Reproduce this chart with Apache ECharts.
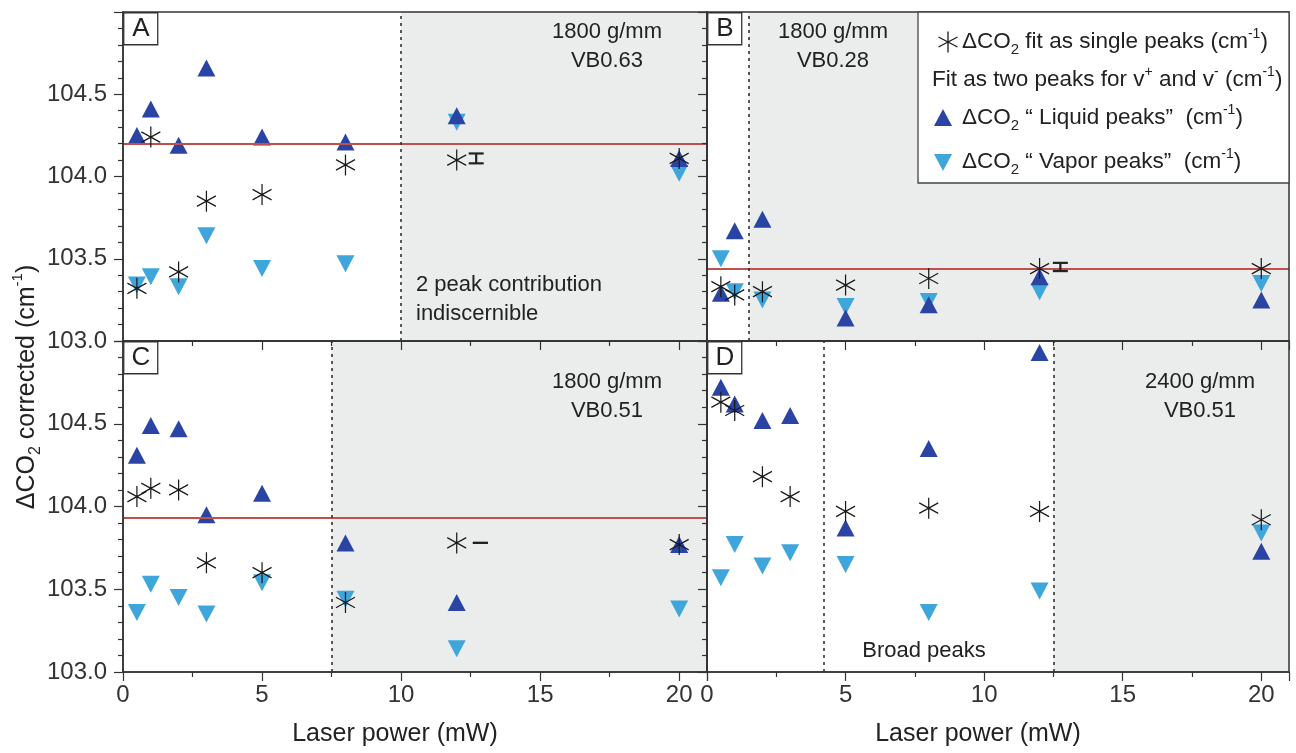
<!DOCTYPE html>
<html><head><meta charset="utf-8">
<script src="https://cdn.jsdelivr.net/npm/echarts@6/dist/echarts.min.js"></script>
<style>html,body{margin:0;padding:0;background:#fff}#c{width:1296px;height:753px}</style>
</head><body><div id="c"></div>
<script>
const FONT = '"Liberation Sans", Arial, sans-serif';
// ---------- data ----------
const powerA = [0.5, 1, 2, 3, 5, 8, 12, 20];
const singleA = [103.32, 104.24, 103.42, 103.85, 103.89, 104.07, 104.10, 104.11];
const liquidA = [104.25, 104.41, 104.19, 104.66, 104.24, 104.21, 104.37, 104.11];
const vaporA  = [103.34, 103.39, 103.33, 103.64, 103.44, 103.47, 104.33, 104.02];

const powerB = [0.5, 1, 2, 5, 8, 12, 20];
const singleB = [103.33, 103.28, 103.30, 103.34, 103.38, 103.44, 103.44];
const liquidB = [103.29, 103.67, 103.74, 103.14, 103.22, 103.39, 103.25];
const vaporB  = [103.50, 103.30, 103.25, 103.21, 103.24, 103.30, 103.35];

const powerC = [0.5, 1, 2, 3, 5, 8, 12, 20];
const singleC = [104.06, 104.11, 104.10, 103.66, 103.60, 103.42, 103.78, 103.77];
const liquidC = [104.31, 104.49, 104.47, 103.95, 104.08, 103.78, 103.42, 103.77];
const vaporC  = [103.36, 103.53, 103.45, 103.35, 103.54, 103.44, 103.14, 103.38];

const powerD = [0.5, 1, 2, 3, 5, 8, 12, 20];
const singleD = [104.63, 104.58, 104.18, 104.06, 103.97, 103.99, 103.97, 103.92];
const liquidD = [104.72, 104.62, 104.52, 104.55, 103.87, 104.35, 104.93, 103.73];
const vaporD  = [103.57, 103.77, 103.64, 103.72, 103.65, 103.36, 103.49, 103.84];

// reference (mean) lines
const refLines = [104.20, 103.44, 103.93, null];
// dotted boundaries and shaded region starts
const dottedX = [[10], [1.5], [7.5], [4.2, 12.5]];
const shadeFrom = [10, 1.5, 7.5, 12.5];
// error bars [x, y, err]
const errBars = [[[12.7, 104.11, 0.03]], [[12.75, 103.45, 0.025]], [[12.85, 103.78, 0.0]], []];

const xTicks = [0, 5, 10, 15, 20];
const yTicks = [103.0, 103.5, 104.0, 104.5];
const panelLabels = ['A', 'B', 'C', 'D'];
const gratings = [['1800 g/mm', 'VB0.63'], ['1800 g/mm', 'VB0.28'], ['1800 g/mm', 'VB0.51'], ['2400 g/mm', 'VB0.51']];

// ---------- styles ----------
const C_LIQ = '#2a44a4', C_VAP = '#3fa6dc', C_RED = '#c0504d', C_SHADE = '#ebecec', C_AX = '#333';
const STAR = 'path://M10,0L10,23M0,5.75L20,17.25M0,17.25L20,5.75';

const gridPos = [
  {left: 123, top: 12, width: 584, height: 329},
  {left: 707, top: 12, width: 582, height: 329},
  {left: 123, top: 341, width: 584, height: 331},
  {left: 707, top: 341, width: 582, height: 331}
];
const panels = [
  [powerA, singleA, liquidA, vaporA],
  [powerB, singleB, liquidB, vaporB],
  [powerC, singleC, liquidC, vaporC],
  [powerD, singleD, liquidD, vaporD]
];

const grid = gridPos.map(g => Object.assign({show: true, z: 10, borderColor: C_AX, borderWidth: 1.5, backgroundColor: 'transparent'}, g));

const xAxis = gridPos.map((g, i) => ({
  type: 'value', gridIndex: i, min: 0, max: 21, interval: 5, z: 10,
  axisLine: {show: true, onZero: false, lineStyle: {color: C_AX, width: 1.5}},
  axisTick: {show: true, length: 9, lineStyle: {color: C_AX, width: 1.2}},
  minorTick: {show: true, splitNumber: 2, length: 5, lineStyle: {color: C_AX, width: 1.2}},
  splitLine: {show: false},
  axisLabel: {show: i >= 2, margin: 11, fontSize: 24, fontFamily: FONT, color: '#333',
    formatter: v => xTicks.includes(v) ? String(v) : ''},
  name: i >= 2 ? 'Laser power (mW)' : '',
  nameLocation: 'middle', nameGap: 50,
  nameTextStyle: {fontSize: 25, fontFamily: FONT, color: '#222', padding: [0, 40, 0, 0]}
}));

const yAxis = gridPos.map((g, i) => ({
  type: 'value', gridIndex: i, min: 103, max: 105, interval: 0.5, z: 10,
  axisLine: {show: true, onZero: false, lineStyle: {color: C_AX, width: 1.5}},
  axisTick: {show: true, length: 9, lineStyle: {color: C_AX, width: 1.2}},
  minorTick: {show: true, splitNumber: 5, length: 5, lineStyle: {color: C_AX, width: 1.2}},
  splitLine: {show: false},
  axisLabel: {show: i % 2 === 0, margin: 16, fontSize: 24, fontFamily: FONT, color: '#333',
    formatter: v => yTicks.some(t => Math.abs(t - v) < 1e-6) ? v.toFixed(1) : ''}
}));

const series = [];
panels.forEach((p, i) => {
  const [pw, single, liquid, vapor] = p;
  // shaded region
  series.push({type: 'line', xAxisIndex: i, yAxisIndex: i, data: [], z: 1, silent: true,
    markArea: {silent: true, itemStyle: {color: C_SHADE}, data: [[{xAxis: shadeFrom[i]}, {xAxis: 21}]]}});
  // reference and boundary lines
  const ml = [];
  if (refLines[i] !== null) ml.push({yAxis: refLines[i], lineStyle: {color: C_RED, width: 2, type: 'solid'}});
  dottedX[i].forEach(d => ml.push({xAxis: d, lineStyle: {color: '#333', width: 1.6, type: [3, 4]}}));
  series.push({type: 'line', xAxisIndex: i, yAxisIndex: i, data: [], z: 2, silent: true,
    markLine: {silent: true, symbol: 'none', label: {show: false}, animation: false, data: ml}});
  series.push({name: 'vapor', type: 'scatter', xAxisIndex: i, yAxisIndex: i, z: 3,
    symbol: 'triangle', symbolRotate: 180, symbolSize: [18, 17], itemStyle: {color: C_VAP, opacity: 1},
    data: pw.map((x, k) => [x, vapor[k]])});
  series.push({name: 'liquid', type: 'scatter', xAxisIndex: i, yAxisIndex: i, z: 4,
    symbol: 'triangle', symbolSize: [18, 17], itemStyle: {color: C_LIQ, opacity: 1},
    data: pw.map((x, k) => [x, liquid[k]])});
  series.push({name: 'single', type: 'scatter', xAxisIndex: i, yAxisIndex: i, z: 5,
    symbol: STAR, symbolSize: [19, 21],
    itemStyle: {color: 'rgba(0,0,0,0)', borderColor: '#1a1a1a', borderWidth: 1.3, opacity: 1},
    data: pw.map((x, k) => [x, single[k]])});
  if (errBars[i].length) {
    series.push({type: 'custom', xAxisIndex: i, yAxisIndex: i, z: 5, silent: true,
      data: errBars[i],
      renderItem: (params, api) => {
        const x = api.value(0), y = api.value(1), e = api.value(2);
        const lo = api.coord([x, y - e]), hi = api.coord([x, y + e]);
        const hw = 7.5, st = {stroke: '#222', lineWidth: 2.2};
        return {type: 'group', children: [
          {type: 'line', shape: {x1: lo[0], y1: lo[1], x2: hi[0], y2: hi[1]}, style: st},
          {type: 'line', shape: {x1: lo[0] - hw, y1: lo[1], x2: lo[0] + hw, y2: lo[1]}, style: st},
          {type: 'line', shape: {x1: hi[0] - hw, y1: hi[1], x2: hi[0] + hw, y2: hi[1]}, style: st}
        ]};
      }});
  }
});

// ---------- annotations ----------
const graphic = [];
const letterPos = [[123, 12], [707, 12], [123, 341], [707, 341]];
letterPos.forEach((pp, i) => {
  graphic.push({type: 'rect', z: 20, shape: {x: pp[0] + 0.75, y: pp[1] + 0.75, width: 34, height: 32},
    style: {fill: '#fff', stroke: '#333', lineWidth: 1.3}});
  graphic.push({type: 'text', z: 21, x: pp[0] + 18, y: pp[1] + 17,
    style: {text: panelLabels[i], fontSize: 26, fontFamily: FONT, fill: '#222', textAlign: 'center', textVerticalAlign: 'middle'}});
});
const gratePos = [[607, 32], [833, 32], [607, 382], [1200, 382]];
gratePos.forEach((pp, i) => {
  gratings[i].forEach((t, k) => graphic.push({type: 'text', z: 20, x: pp[0], y: pp[1] + k * 29,
    style: {text: t, fontSize: 22, fontFamily: FONT, fill: '#222', textAlign: 'center', textVerticalAlign: 'middle'}}));
});
graphic.push({type: 'text', z: 20, x: 416, y: 285, style: {text: '2 peak contribution', fontSize: 22, fontFamily: FONT, fill: '#222', textAlign: 'left', textVerticalAlign: 'middle'}});
graphic.push({type: 'text', z: 20, x: 416, y: 314, style: {text: 'indiscernible', fontSize: 22, fontFamily: FONT, fill: '#222', textAlign: 'left', textVerticalAlign: 'middle'}});
graphic.push({type: 'text', z: 20, x: 924, y: 651, style: {text: 'Broad peaks', fontSize: 22, fontFamily: FONT, fill: '#222', textAlign: 'center', textVerticalAlign: 'middle'}});

// rich text styles
function rich(fs) {
  return {
    m: {fontSize: fs, fontFamily: FONT, fill: '#222', lineHeight: fs + 8},
    s: {fontSize: Math.round(fs * 0.65), fontFamily: FONT, fill: '#222', lineHeight: Math.round(fs * 0.65), verticalAlign: 'bottom'},
    p: {fontSize: Math.round(fs * 0.6), fontFamily: FONT, fill: '#222', lineHeight: Math.round(fs * 0.6), verticalAlign: 'top'}
  };
}
// y-axis title
graphic.push({type: 'text', z: 20, x: 27, y: 387, rotation: Math.PI / 2,
  style: {text: '{m|ΔCO}{s|2}{m| corrected (cm}{p|-1}{m|)}', rich: rich(25), textAlign: 'center', textVerticalAlign: 'middle'}});

// legend box
graphic.push({type: 'rect', z: 20, shape: {x: 918, y: 12, width: 371, height: 171}, style: {fill: '#fff', stroke: '#444', lineWidth: 1.3}});
const lst = {stroke: '#1a1a1a', lineWidth: 1.3};
graphic.push({type: 'line', z: 21, shape: {x1: 948, y1: 31.5, x2: 948, y2: 52.5}, style: lst});
graphic.push({type: 'line', z: 21, shape: {x1: 938.5, y1: 37, x2: 957.5, y2: 47}, style: lst});
graphic.push({type: 'line', z: 21, shape: {x1: 938.5, y1: 47, x2: 957.5, y2: 37}, style: lst});
graphic.push({type: 'polygon', z: 21, shape: {points: [[943, 109], [952, 126], [934, 126]]}, style: {fill: C_LIQ}});
graphic.push({type: 'polygon', z: 21, shape: {points: [[934, 154], [952, 154], [943, 171]]}, style: {fill: C_VAP}});
const legendRows = [
  [962, 42, '{m|ΔCO}{s|2}{m| fit as single peaks (cm}{p|-1}{m|)}'],
  [932, 80, '{m|Fit as two peaks for v}{p|+}{m| and v}{p|-}{m| (cm}{p|-1}{m|)}'],
  [962, 118, '{m|ΔCO}{s|2}{m| \u201C Liquid peaks\u201D  (cm}{p|-1}{m|)}'],
  [962, 162, '{m|ΔCO}{s|2}{m| \u201C Vapor peaks\u201D  (cm}{p|-1}{m|)}']
];
legendRows.forEach(r => graphic.push({type: 'text', z: 21, x: r[0], y: r[1],
  style: {text: r[2], rich: rich(22.5), textAlign: 'left', textVerticalAlign: 'middle'}}));

const chart = echarts.init(document.getElementById('c'), null, {renderer: 'canvas'});
chart.setOption({animation: false, backgroundColor: '#fff', grid, xAxis, yAxis, series, graphic});
</script></body></html>
